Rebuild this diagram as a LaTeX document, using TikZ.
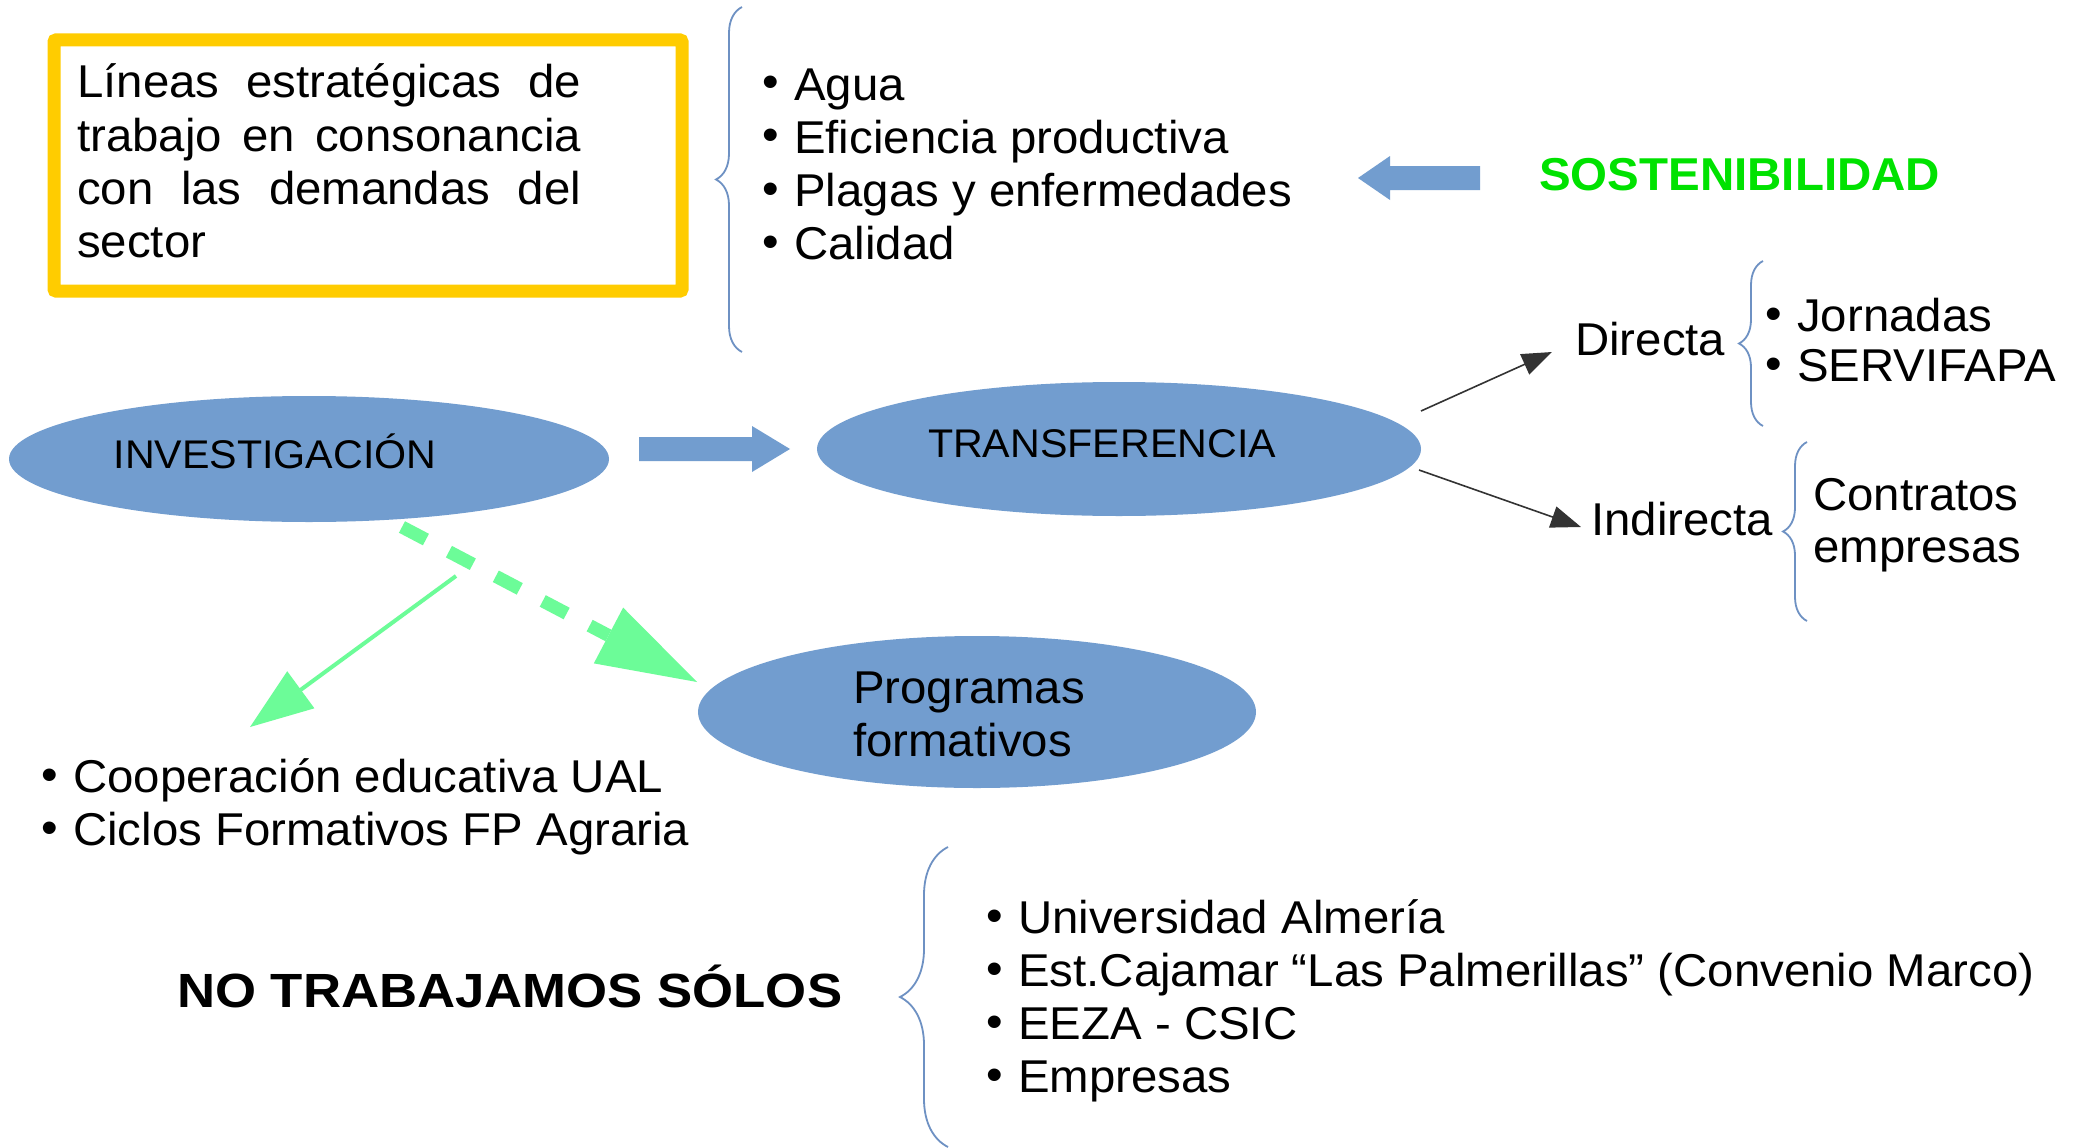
\documentclass[tikz,border=0pt]{standalone}
\usepackage{graphicx}
\usepackage{fontspec}
\setmainfont[FakeStretch=1.03]{Liberation Sans}
\usetikzlibrary{shapes.geometric,calc,decorations.pathreplacing,arrows.meta}
\definecolor{ellblue}{RGB}{114,157,207}
\definecolor{mint}{RGB}{108,252,152}
\definecolor{sostgreen}{RGB}{0,226,0}
\definecolor{boxyellow}{RGB}{255,204,0}
\definecolor{bracecol}{RGB}{110,145,195}
\newcommand\bul{\makebox[32pt][l]{\raisebox{2pt}{•}}}
\begin{document}
\begin{tikzpicture}[x=1pt,y=-1pt,
  txt/.style={inner sep=0pt, anchor=base west, font=\fontsize{46}{53}\selectfont},
  elltxt/.style={inner sep=0pt, anchor=base, font=\fontsize{40}{45}\selectfont},
  ell/.style={ellipse, fill=ellblue, draw=none, inner sep=0pt},
  brc/.style={draw=bracecol, line width=1.8pt, decorate},
  blk/.style={draw=black!80, line width=1.6pt, -{Triangle[length=30pt,width=22pt]}},
  blockarrow/.style={fill=ellblue},
]
\fill[white] (0,0) rectangle (2086,1148);
\useasboundingbox (0,0) rectangle (2086,1148);

% yellow box
\node[draw=boxyellow, line width=13pt, rounded corners=2pt, minimum width=628pt, minimum height=251pt, inner sep=0pt] (box) at (368,165.5) {};
\node[txt] (l1) at (77,98) {\makebox[504pt][s]{Líneas estratégicas de}};
\node[txt] (l2) at (77,151) {\makebox[504pt][s]{trabajo en consonancia}};
\node[txt] (l3) at (77,204) {\makebox[504pt][s]{con las demandas del}};
\node[txt] (l4) at (77,257) {sector};

% top brace and list
\draw[brc, decoration={brace, amplitude=26pt}] (742,352) -- (742,7);
\node[txt] (a1) at (762,100) {\bul Agua};
\node[txt] (a2) at (762,153) {\bul Eficiencia productiva};
\node[txt] (a3) at (762,206) {\bul Plagas y enfermedades};
\node[txt] (a4) at (762,259) {\bul Calidad};

% sostenibilidad
\coordinate (sA) at (1480,178);
\coordinate (sB) at (1358,178);
\fill[blockarrow] ($(sA)+(0,-12)$) -- (1390,166) -- (1390,156) -- (sB) -- (1390,200) -- (1390,190) -- ($(sA)+(0,12)$) -- cycle;
\node[txt, font=\bfseries\fontsize{46.1}{50}\selectfont, text=sostgreen] (sost) at (1539,190) {SOSTENIBILIDAD};

% ellipses
\node[ell, minimum width=600pt, minimum height=126pt] (inv) at (309,459) {};
\node[ell, minimum width=604pt, minimum height=134pt] (trans) at (1119,449) {};
\node[ell, minimum width=558pt, minimum height=152pt] (prog) at (977,712) {};
\node[elltxt] (invl) at (275,468) {INVESTIGACIÓN};
\node[elltxt] (transl) at (1102,457) {TRANSFERENCIA};
\node[txt] (prog1) at (853,703) {Programas};
\node[txt] (prog2) at (853,756) {formativos};

% block arrow inv -> trans
\coordinate (bA) at (639,449);
\coordinate (bB) at (790,449);
\fill[blockarrow] ($(bA)+(0,-12)$) -- (752,437) -- (752,426) -- (bB) -- (752,472) -- (752,461) -- ($(bA)+(0,12)$) -- cycle;

% directa / indirecta
\node[txt] (dir) at (1575,355) {Directa};
\node[txt] (ind) at (1591,535) {Indirecta};
\coordinate (tA) at (1421,411);
\coordinate (tB) at (1419,470);
\draw[blk] (tA) -- ([shift={(-23pt,3pt)}]dir.base west);
\draw[blk] (tB) -- ([shift={(-10pt,8pt)}]ind.base west);
\draw[brc, decoration={brace, amplitude=24pt}] (1763,426) -- (1763,261);
\node[txt] (j1) at (1765,331) {\bul Jornadas};
\node[txt] (j2) at (1765,381) {\bul SERVIFAPA};
\draw[brc, decoration={brace, amplitude=24pt}] (1807,621) -- (1807,442);
\node[txt] (c1) at (1813,510) {Contratos};
\node[txt] (c2) at (1813,562) {empresas};

% green arrows
\coordinate (gA) at (402,527);
\coordinate (gT) at (697,682);
\draw[mint, line width=13pt, dash pattern=on 27pt off 26pt] (gA) -- ($(gT)!100pt!(gA)$);
\fill[mint] (gT) -- ($(gT)!100pt!(gA)!31.5pt!90:(gA)$) -- ($(gT)!100pt!(gA)!31.5pt!-90:(gA)$) -- cycle;
\coordinate (gS) at (456,576);
\coordinate (gU) at (250,727);
\draw[mint, line width=4pt] (gS) -- ($(gU)!60pt!(gS)$);
\fill[mint] (gU) -- ($(gU)!63pt!(gS)!23pt!90:(gS)$) -- ($(gU)!63pt!(gS)!23pt!-90:(gS)$) -- cycle;

% left list
\node[txt] (e1) at (41,792) {\bul Cooperación educativa UAL};
\node[txt] (e2) at (41,845) {\bul Ciclos Formativos FP Agraria};

% no trabajamos solos
\node[txt, font=\bfseries\fontsize{48}{50}\selectfont] (notr) at (177,1007) {\resizebox{665pt}{\height}{NO TRABAJAMOS SÓLOS}};
\draw[brc, decoration={brace, amplitude=48pt}] (948,1147) -- (948,847);
\node[txt] (u1) at (986,933) {\bul Universidad Almería};
\node[txt] (u2) at (986,986) {\bul Est.Cajamar “Las Palmerillas” (Convenio Marco)};
\node[txt] (u3) at (986,1039) {\bul EEZA - CSIC};
\node[txt] (u4) at (986,1092) {\bul Empresas};
\end{tikzpicture}
\end{document}
